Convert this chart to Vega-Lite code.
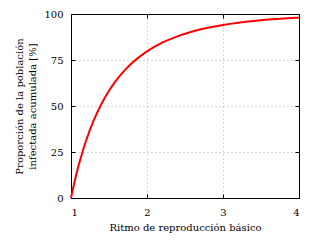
{
  "$schema": "https://vega.github.io/schema/vega-lite/v6.json",
  "width": 228,
  "height": 184,
  "autosize": "none",
  "padding": {"left": 71, "top": 14, "right": 21, "bottom": 42},
  "background": "white",
  "config": {
    "view": {"stroke": null},
    "font": "DejaVu Serif",
    "axis": {
      "labelFont": "DejaVu Serif",
      "titleFont": "DejaVu Serif",
      "labelFontSize": 10,
      "titleFontSize": 10,
      "titleFontWeight": "normal",
      "labelColor": "black",
      "titleColor": "black",
      "domainColor": "black",
      "domainWidth": 1,
      "tickColor": "black",
      "tickSize": -4,
      "gridColor": "#b0b0b0",
      "gridDash": [1, 3],
      "gridWidth": 1
    }
  },
  "data": {
    "values": [
      {"r": 1.0, "p": 0},
      {"r": 1.01, "p": 1.97},
      {"r": 1.02, "p": 3.89},
      {"r": 1.05, "p": 9.36},
      {"r": 1.1, "p": 17.6},
      {"r": 1.15, "p": 24.9},
      {"r": 1.2, "p": 31.4},
      {"r": 1.3, "p": 42.3},
      {"r": 1.4, "p": 51.1},
      {"r": 1.5, "p": 58.3},
      {"r": 1.6, "p": 64.2},
      {"r": 1.7, "p": 69.1},
      {"r": 1.8, "p": 73.2},
      {"r": 1.9, "p": 76.7},
      {"r": 2.0, "p": 79.7},
      {"r": 2.2, "p": 84.4},
      {"r": 2.4, "p": 87.85},
      {"r": 2.6, "p": 90.48},
      {"r": 2.8, "p": 92.5},
      {"r": 3.0, "p": 94.05},
      {"r": 3.2, "p": 95.25},
      {"r": 3.4, "p": 96.2},
      {"r": 3.6, "p": 96.95},
      {"r": 3.8, "p": 97.55},
      {"r": 4.0, "p": 98.02}
    ]
  },
  "layer": [
    {
      "mark": {"type": "line", "color": "#ff0000", "strokeWidth": 2, "interpolate": "monotone"},
      "encoding": {
        "x": {"field": "r", "type": "quantitative", "scale": {"domain": [1, 4], "nice": false},
          "axis": {"orient": "bottom", "title": "Ritmo de reproducción básico", "values": [1, 2, 3, 4], "grid": true, "domain": true, "labelPadding": 13, "titlePadding": 5}},
        "y": {"field": "p", "type": "quantitative", "scale": {"domain": [0, 100], "nice": false},
          "axis": {"orient": "left", "title": ["Proporción de la población", "infectada acumulada [%]"], "titleLineHeight": 13, "values": [0, 25, 50, 75, 100], "grid": true, "domain": true, "labelPadding": 12, "titlePadding": 6}}
      }
    },
    {
      "mark": {"type": "line", "opacity": 0},
      "encoding": {
        "x": {"field": "r", "type": "quantitative", "scale": {"domain": [1, 4], "nice": false},
          "axis": {"orient": "top", "labels": false, "title": null, "values": [1, 2, 3, 4], "grid": false, "domain": true, "zindex": 2}},
        "y": {"field": "p", "type": "quantitative", "scale": {"domain": [0, 100], "nice": false},
          "axis": {"orient": "right", "labels": false, "title": null, "values": [0, 25, 50, 75, 100], "grid": false, "domain": true, "zindex": 2}}
      }
    }
  ],
  "resolve": {"axis": {"x": "independent", "y": "independent"}}
}
